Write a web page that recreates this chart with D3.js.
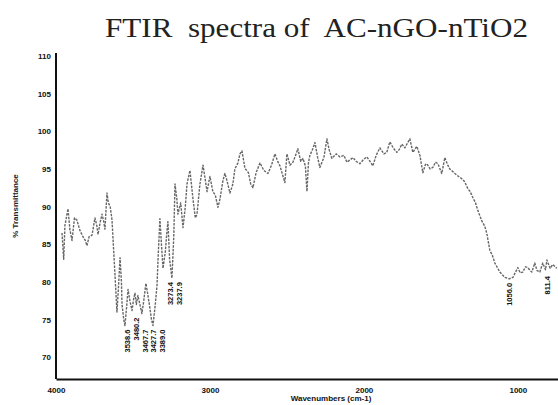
<!DOCTYPE html>
<html>
<head>
<meta charset="utf-8">
<script src="https://cdn.jsdelivr.net/npm/d3@7"></script>
<style>
  html, body { margin: 0; padding: 0; background: #fff; }
  svg { display: block; }
</style>
</head>
<body>
<svg id="chart" width="558" height="405"></svg>
<script>
// ---- data ----
const wavenumbers = [
  3961,3950,3942,3922,3910,3896,3880,3864,3844,3825,3810,3799,3785,3766,3747,3735,3727,3712,3701,3690,
  3682,3669,3660,3648,3636,3625,3617,3604,3595,3584,3575,3571,3560,3552,3540,3532,3520,3506,3495,3487,
  3478,3468,3455,3442,3430,3416,3405,3390,3380,3370,3355,3344,3335,3325,3315,3305,3290,3280,3273,3262,
  3247,3235,3227,3215,3208,3190,3175,3160,3149,3130,3110,3095,3084,3065,3045,3030,3019,3000,2981,2965,
  2948,2935,2915,2903,2890,2870,2851,2838,2818,2805,2792,2773,2750,2735,2721,2700,2675,2650,2623,2600,
  2578,2560,2545,2525,2513,2500,2480,2461,2440,2429,2410,2396,2380,2370,2360,2351,2335,2318,2300,2286,
  2260,2240,2225,2208,2180,2156,2130,2110,2090,2071,2050,2026,2000,1981,1960,1942,1920,1896,1870,1851,
  1831,1810,1786,1770,1753,1734,1715,1701,1682,1656,1636,1617,1600,1591,1570,1552,1535,1519,1494,1474,
  1455,1442,1409,1385,1364,1345,1325,1310,1292,1275,1260,1234,1215,1201,1182,1165,1149,1117,1084,1056,
  1032,1000,985,968,950,935,920,909,890,875,857,838,820,811,790,773,747
];
const transmittance = [
  86.5,83.0,87.5,89.7,87.0,85.5,88.5,88.2,86.8,86.0,85.5,84.8,86.0,86.2,88.5,87.5,86.3,88.0,89.0,88.0,
  87.0,91.8,90.5,90.0,88.2,84.0,81.0,76.0,79.0,83.2,80.0,77.0,75.0,74.2,77.0,79.0,77.5,76.2,77.8,78.5,
  77.0,78.2,77.0,75.8,77.5,79.8,78.5,76.5,75.0,74.2,77.0,79.5,84.0,88.4,85.0,81.8,84.0,86.5,88.0,83.0,
  80.5,86.0,93.0,91.0,89.0,90.5,87.2,90.0,93.0,94.8,91.0,88.5,89.0,93.0,95.5,93.5,92.0,94.0,92.0,91.5,
  89.9,91.0,93.5,94.4,93.5,91.8,93.0,95.0,95.8,97.0,97.4,95.1,94.5,93.0,92.5,94.5,95.8,94.8,94.4,95.5,
  97.0,96.0,95.4,94.0,93.2,97.0,95.5,95.9,97.0,97.7,96.0,96.4,95.4,92.0,95.8,96.8,97.5,98.5,96.5,95.2,
  96.5,99.0,97.5,96.4,97.0,96.6,96.8,95.9,96.2,96.5,96.0,95.7,96.3,96.6,96.0,95.4,96.8,97.8,97.0,97.2,
  98.6,97.8,97.2,97.6,98.3,97.8,98.5,99.0,97.2,98.0,96.8,94.5,95.6,95.7,95.0,95.2,95.9,95.7,94.4,96.5,
  95.5,95.0,94.4,94.0,93.7,93.3,92.4,92.0,91.2,90.5,89.5,88.1,87.4,86.4,84.2,83.5,82.5,81.3,80.6,80.4,
  80.6,81.9,81.2,81.3,82.0,81.9,81.5,81.3,82.5,81.5,81.3,82.5,81.6,82.9,81.8,82.3,81.8
];
const peakWaves  = [3538.6, 3480.2, 3467.7, 3427.7, 3389.0, 3273.4, 3237.9, 1056.0, 811.4];
const peakLabels = ["3538.6", "3480.2", "3467.7", "3427.7", "3389.0", "3273.4", "3237.9", "1056.0", "811.4"];
const xTicks = [4000, 3000, 2000, 1000];
const yTicks = [70, 75, 80, 85, 90, 95, 100, 105, 110];
const titleText = "FTIR  spectra of  AC-nGO-nTiO2";
const xTitle = "Wavenumbers (cm-1)";
const yTitle = "% Transmittance";

// ---- drawing ----
const svg = d3.select("#chart");
const x = d3.scaleLinear().domain([4000, 739]).range([56, 558]);
const y = d3.scaleLinear().domain([67.1, 110]).range([379, 56]);

const series = wavenumbers.map((w, i) => ({ w, t: transmittance[i] }));

// title
svg.append("text")
  .attr("x", 105).attr("y", 37)
  .attr("text-anchor", "start")
  .style("white-space", "pre")
  .attr("textLength", 423)
  .attr("lengthAdjust", "spacingAndGlyphs")
  .attr("font-family", "'Liberation Serif', 'Times New Roman', serif")
  .attr("font-size", 27)
  .attr("fill", "#222")
  .text(titleText);

// axes
const xAxis = d3.axisBottom(x).tickValues(xTicks).tickSize(0).tickPadding(8).tickFormat(d3.format("d"));
const yAxis = d3.axisLeft(y).tickValues(yTicks).tickSize(0).tickPadding(5).tickFormat(d3.format("d"));

const gx = svg.append("g").attr("transform", "translate(0,379)").call(xAxis);
const gy = svg.append("g").attr("transform", "translate(56,0)").call(yAxis);

[gx, gy].forEach(g => {
  g.select(".domain").attr("stroke", "#111").attr("stroke-width", 2);
  g.selectAll(".tick text")
    .attr("font-family", "'Liberation Sans', Arial, sans-serif")
    .attr("font-weight", "bold")
    .attr("font-size", 8)
    .attr("fill", "#111");
});
gy.select(".domain").attr("d", `M0,${y(110) - 3}V379`);

// axis titles
svg.append("text")
  .attr("x", 331).attr("y", 401)
  .attr("text-anchor", "middle")
  .attr("font-family", "'Liberation Sans', Arial, sans-serif")
  .attr("font-weight", "bold")
  .attr("font-size", 8)
  .attr("fill", "#111")
  .text(xTitle);

svg.append("text")
  .attr("transform", "translate(18,206) rotate(-90)")
  .attr("text-anchor", "middle")
  .attr("font-family", "'Liberation Sans', Arial, sans-serif")
  .attr("font-weight", "bold")
  .attr("font-size", 8)
  .attr("fill", "#222")
  .text(yTitle);

// spectrum trace
const line = d3.line().x(d => x(d.w)).y(d => y(d.t));
svg.append("path")
  .datum(series)
  .attr("d", line)
  .attr("fill", "none")
  .attr("stroke", "#666")
  .attr("stroke-width", 1.4)
  .attr("stroke-dasharray", "2.5,1.2")
  .attr("stroke-linejoin", "round");

// peak labels: positioned at peak, pushed apart if crowded, kept below the trace
const peaks = peakWaves.map((w, i) => ({ w, label: peakLabels[i], px: x(w) }))
  .sort((a, b) => a.px - b.px);
for (let i = 1; i < peaks.length; i++) {
  if (peaks[i].px < peaks[i - 1].px + 8.5) peaks[i].px = peaks[i - 1].px + 8.5;
}
peaks.forEach(p => {
  const near = series.filter(d => Math.abs(x(d.w) - p.px) <= 10);
  const tmin = d3.min(near, d => d.t);
  p.top = y(tmin) + 4;
});
svg.append("g").selectAll("text")
  .data(peaks)
  .join("text")
  .attr("transform", d => `translate(${d.px + 3},${d.top}) rotate(-90)`)
  .attr("text-anchor", "end")
  .attr("font-family", "'Liberation Sans', Arial, sans-serif")
  .attr("font-weight", "bold")
  .attr("font-size", 7.5)
  .attr("fill", "#111")
  .text(d => d.label);
</script>
</body>
</html>
